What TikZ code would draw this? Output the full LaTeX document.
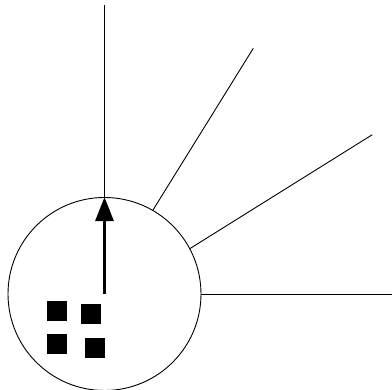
\documentclass[tikz,border=0pt]{standalone}
\usetikzlibrary{arrows.meta}
\begin{document}
\begin{tikzpicture}[x=1pt,y=1pt,
  ray/.style={line width=0.9pt},
  sq/.style={draw,fill=black,minimum size=19pt,inner sep=0pt},
  ring/.style={draw,circle,line width=0.9pt,minimum size=193pt,inner sep=0pt}]
\useasboundingbox (0,0) rectangle (392,390);
\node[ring] (c) at (104.5,96) {};
\coordinate (o) at (104.5,96);
\coordinate (t0) at (392,96);
\coordinate (t30) at (372.3,255.3);
\coordinate (t60) at (253.3,341.7);
\coordinate (t90) at (104.5,384.5);
\draw[ray] (c.0) -- (t0);
\draw[ray] (c.28) -- (t30);
\draw[ray] (c.60) -- (t60);
\draw[ray] (c.north) -- (t90);
\draw[line width=3pt,-{Triangle[length=24pt,width=18pt]}] (o) -- (c.north);
\node[sq] (s1) at (56.5,79.5) {};
\node[sq] (s2) at (90.5,76.5) {};
\node[sq] (s3) at (56.5,46.7) {};
\node[sq] (s4) at (94.5,42.7) {};
\end{tikzpicture}
\end{document}
